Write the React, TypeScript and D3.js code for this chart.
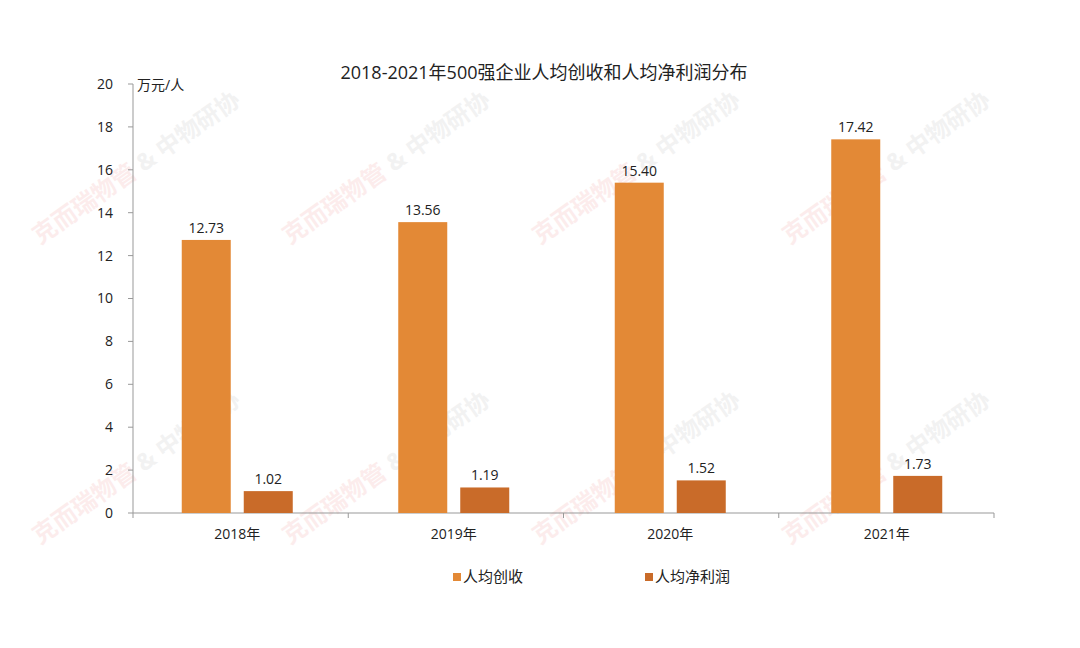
import React from "react";
import * as d3 from "d3";

const categories = ["2018年", "2019年", "2020年", "2021年"];
const revenue = [12.73, 13.56, 15.4, 17.42];
const profit = [1.02, 1.19, 1.52, 1.73];
const seriesNames = ["人均创收", "人均净利润"];
const yTicks = [0, 2, 4, 6, 8, 10, 12, 14, 16, 18, 20];
const title = "2018-2021年500强企业人均创收和人均净利润分布";
const unitLabel = "万元/人";
const watermarkA = "克而瑞物管";
const watermarkB = " & 中物研协";

const W = 1080;
const H = 648;
const FONT = "'Open Sans', 'Noto Sans CJK SC', sans-serif";
const colors = ["#E38936", "#C96B29"];

export default function App() {
  const left = 133, right = 994, top = 84, bottom = 513;
  const xBars = d3.scaleBand<string>().domain(categories).range([left, 999]);
  const xAxis = d3.scaleBand<string>().domain(categories).range([left, right]);
  const y = d3.scaleLinear().domain([0, 20]).range([bottom, top]);
  const barW = 49;
  const gap = 13;
  const series = [revenue, profit];

  const wmPositions: [number, number][] = [];
  for (let r = 0; r < 2; r++) {
    for (let c = 0; c < 4; c++) {
      wmPositions.push([40 + c * 250, 245 + r * 300]);
    }
  }

  return (
    <svg width={W} height={H} style={{ display: "block", position: "absolute", left: 0, top: 0 }} fontFamily={FONT}>
      <rect x={0} y={0} width={W} height={H} fill="#fff" />
      {wmPositions.map(([wx, wy], i) => (
        <text key={i} x={wx} y={wy} transform={`rotate(-35 ${wx} ${wy})`} fontSize={24} fontWeight="bold" opacity={0.15}>
          <tspan fill="#e88">{watermarkA}</tspan>
          <tspan fill="#aaa">{watermarkB}</tspan>
        </text>
      ))}
      <text x={544} y={79} textAnchor="middle" fontSize={18} fill="#222">{title}</text>
      <line x1={left} x2={left} y1={top} y2={bottom} stroke="#999" />
      {yTicks.map((t) => (
        <g key={t}>
          <line x1={left - 5} x2={left} y1={y(t)} y2={y(t)} stroke="#999" />
          <text x={left - 20} y={y(t)} dy="0.35em" textAnchor="end" fontSize={14} fill="#222">{t}</text>
        </g>
      ))}
      <text x={137} y={90} fontSize={14} fill="#222">{unitLabel}</text>
      <line x1={left} x2={right} y1={bottom} y2={bottom} stroke="#999" />
      {[...categories.map((c) => xAxis(c) as number), right].map((v, i) => (
        <line key={i} x1={v} x2={v} y1={bottom} y2={bottom + 5} stroke="#999" />
      ))}
      {categories.map((c) => (
        <text key={c} x={(xBars(c) as number) + xBars.bandwidth() / 2 - 4} y={539} textAnchor="middle" fontSize={14} fill="#222">{c}</text>
      ))}
      {categories.map((c, i) => {
        const cx = (xBars(c) as number) + xBars.bandwidth() / 2 - 4;
        return series.map((s, j) => {
          const bx = j === 0 ? cx - gap / 2 - barW : cx + gap / 2;
          const v = s[i];
          return (
            <g key={`${c}-${j}`}>
              <rect x={bx} y={y(v)} width={barW} height={bottom - y(v)} fill={colors[j]} />
              <text x={bx + barW / 2} y={y(v) - 7} textAnchor="middle" fontSize={14} fill="#222">{v.toFixed(2)}</text>
            </g>
          );
        });
      })}
      {seriesNames.map((n, j) => {
        const lx = j === 0 ? 453 : 645;
        return (
          <g key={n}>
            <rect x={lx} y={573} width={8} height={8} fill={colors[j]} />
            <text x={lx + 10} y={577} dy="0.35em" fontSize={15} fill="#222">{n}</text>
          </g>
        );
      })}
    </svg>
  );
}
